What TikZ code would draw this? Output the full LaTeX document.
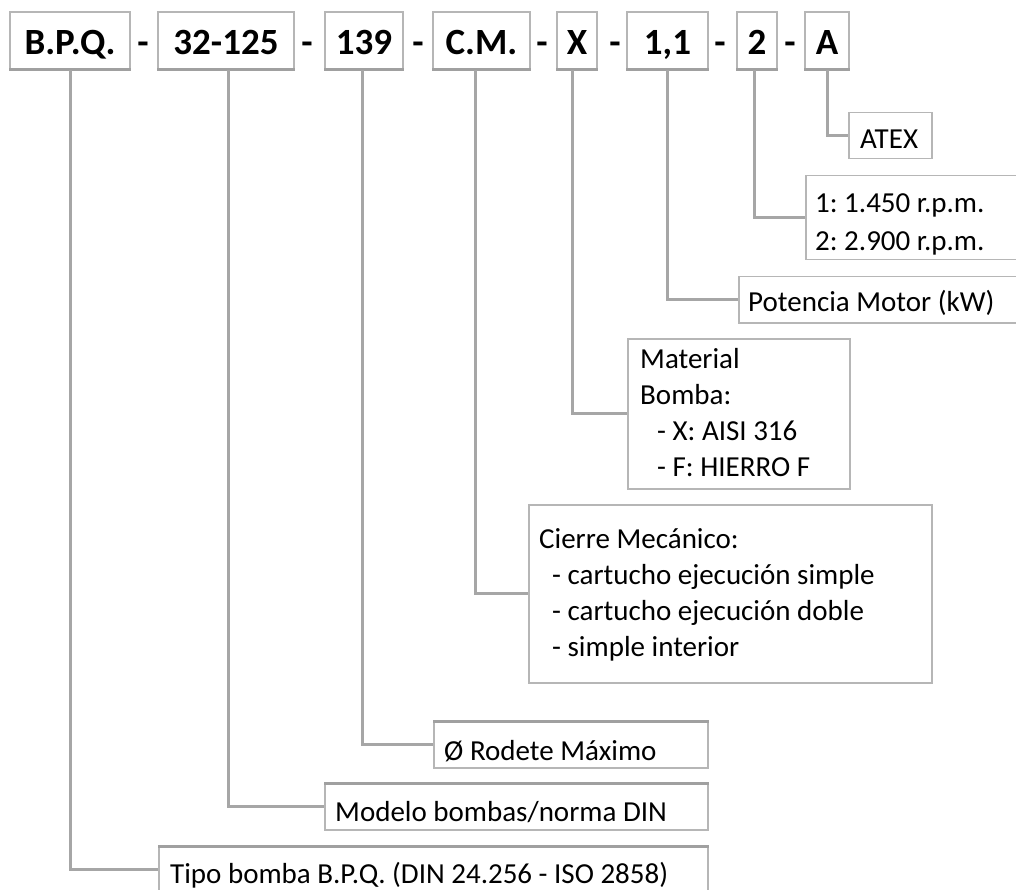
\documentclass[tikz,border=0pt]{standalone}
\usepackage{fontspec}
\setmainfont{Carlito}
\frenchspacing
\definecolor{boxgray}{RGB}{182,182,182}
\definecolor{linegray}{RGB}{166,166,166}
\definecolor{shadegray}{RGB}{160,160,160}
\begin{document}
\begin{tikzpicture}[x=1pt,y=-1pt,
  topbox/.style={draw=boxgray, line width=1.5pt, fill=white, inner sep=0pt, minimum height=57pt, text height=29pt, text depth=0pt, font=\fontsize{37}{40}\selectfont\bfseries},
  sepdash/.style={anchor=base, inner sep=0pt, font=\fontsize{37}{40}\selectfont\bfseries},
  infobox/.style={draw=boxgray, line width=1.5pt, anchor=north west, inner sep=0pt},
  mtxt/.style={anchor=north west, inner sep=0pt, align=left, font=\fontsize{29}{36}\selectfont\frenchspacing},
  stxt/.style={anchor=base west, inner sep=0pt, font=\fontsize{29}{36}\selectfont\frenchspacing},
  conn/.style={draw=linegray, line width=3pt},
  shadeline/.style={draw=shadegray, line width=3pt}]
\useasboundingbox (0,0) rectangle (1016,890);

% top code boxes
\node[topbox, minimum width=120pt] (bpq) at (70,40.5) {B.P.Q.};
\node[topbox, minimum width=136pt] (m32) at (226,40.5) {32-125};
\node[topbox, minimum width=78pt] (d139) at (364,40.5) {139};
\node[topbox, minimum width=97pt] (cm) at (481.5,40.5) {C.M.};
\node[topbox, minimum width=40pt] (xm) at (577,40.5) {X};
\node[topbox, minimum width=81pt] (pw) at (667.5,40.5) {1,1};
\node[topbox, minimum width=40pt] (vel) at (757,40.5) {2};
\node[topbox, minimum width=44pt] (ax) at (827,40.5) {A};
\foreach \n in {bpq,m32,d139,cm,xm,pw,vel,ax}
  \draw[shadeline] (\n.south west) -- (\n.south east);

% separators
\node[sepdash] (s1) at (143,55) {-};
\node[sepdash] (s2) at (307,55) {-};
\node[sepdash] (s3) at (418,55) {-};
\node[sepdash] (s4) at (542,55) {-};
\node[sepdash] (s5) at (615,55) {-};
\node[sepdash] (s6) at (720,55) {-};
\node[sepdash] (s7) at (790,55) {-};

% description boxes
\node[infobox, minimum width=83pt, minimum height=46pt] (atexbox) at (848,112) {};
\node[infobox, minimum width=240pt, minimum height=84pt] (rpmbox) at (805,175) {};
\node[infobox, minimum width=300pt, minimum height=46pt] (potbox) at (738,276) {};
\node[infobox, minimum width=222pt, minimum height=150pt] (matbox) at (627,338) {};
\node[infobox, minimum width=403pt, minimum height=178pt] (ciebox) at (528,504) {};
\node[infobox, minimum width=274pt, minimum height=46pt] (rodbox) at (433,721) {};
\node[infobox, minimum width=383pt, minimum height=46pt] (modbox) at (324,783) {};
\node[infobox, minimum width=549pt, minimum height=46pt] (tipobox) at (158,846) {};
\foreach \n in {rodbox,modbox,tipobox}
  \draw[shadeline] (\n.north west) -- (\n.north east);

% texts
\node[stxt] (atext) at (860,149) {ATEX};
\node[mtxt, font=\fontsize{29}{38}\selectfont\frenchspacing] (rpmt) at (815,185.4) {\strut 1: 1.450 r.p.m.\\2: 2.900 r.p.m.};
\node[stxt] (pott) at (748,312) {Potencia Motor (kW)};
\node[mtxt] (matt) at (640,342.8) {\strut Material\\Bomba:\\\hspace*{17pt}- X: AISI 316\\\hspace*{17pt}- F: HIERRO F};
\node[mtxt] (ciet) at (539,522.8) {\strut Cierre Mecánico:\\\hspace*{13pt}- cartucho ejecución simple\\\hspace*{13pt}- cartucho ejecución doble\\\hspace*{13pt}- simple interior};
\node[stxt] (rodt) at (444,760) {Ø Rodete Máximo};
\node[stxt] (modt) at (335,821) {Modelo bombas/norma DIN};
\node[stxt] (tipot) at (170,883) {Tipo bomba B.P.Q. (DIN 24.256 - ISO 2858)};

% connectors
\draw[conn] (ax.south) |- (atexbox.west);
\draw[conn] ([xshift=-3pt]vel.south) |- (rpmbox.west);
\draw[conn] (pw.south) |- (potbox.west);
\draw[conn] ([xshift=-5pt]xm.south) |- (matbox.west);
\draw[conn] ([xshift=-6pt]cm.south) |- (ciebox.west);
\draw[conn] ([xshift=-2pt]d139.south) |- (rodbox.west);
\draw[conn] ([xshift=2pt]m32.south) |- (modbox.west);
\draw[conn] (bpq.south) |- (tipobox.west);
\end{tikzpicture}
\end{document}
